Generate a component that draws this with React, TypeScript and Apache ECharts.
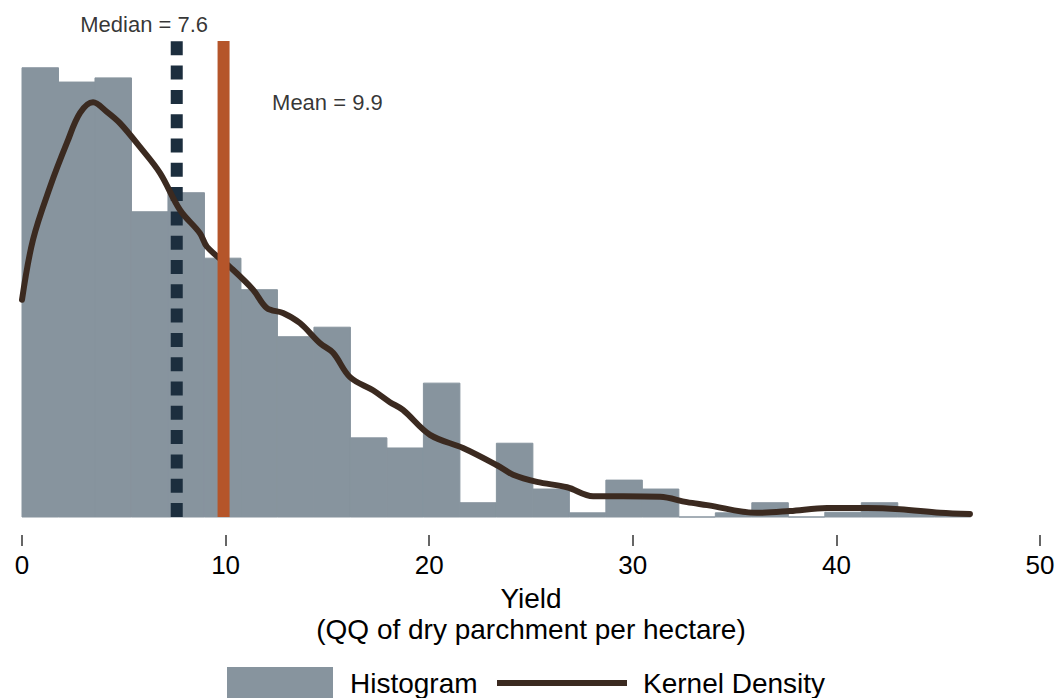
import React, { useEffect, useRef } from "react";
import * as echarts from "echarts";

// Histogram of yields: 26 equal-width bins starting at 0 (density scale)
const binStart = 0;
const binWidth = 1.7923;
const histDensity = [
  0.0755, 0.0731, 0.0738, 0.0513, 0.0545, 0.0435, 0.0382, 0.0303, 0.0319,
  0.0133, 0.0116, 0.0225, 0.0024, 0.0124, 0.0047, 0.0007, 0.0062, 0.0047,
  0.0, 0.0007, 0.0024, 0.0, 0.0008, 0.0024, 0.0008, 0.0007,
];

// Kernel density estimate
const kdeYield = [
  0, 0.54, 1.38, 2.21, 2.85, 3.49, 4.17, 4.81, 5.79, 6.78, 7.76, 8.74, 9.09,
  10.22, 11.35, 12.03, 12.82, 13.65, 14.64, 15.28, 16.11, 17.24, 18.07, 18.71,
  20.04, 21.66, 23.33, 24.12, 25.29, 26.77, 28.05, 29.52, 31.34, 32.66, 33.65,
  36.1, 37.72, 39.54, 41.5, 43.12, 45.09, 46.56,
];
const kdeDensity = [
  0.0365, 0.0466, 0.0555, 0.0629, 0.0679, 0.0697, 0.0681, 0.0662, 0.0622,
  0.0578, 0.0516, 0.0477, 0.0454, 0.042, 0.0382, 0.0351, 0.0343, 0.0326,
  0.0292, 0.0276, 0.0235, 0.0213, 0.0193, 0.018, 0.0138, 0.0116, 0.0087,
  0.0071, 0.0059, 0.005, 0.0035, 0.0035, 0.0034, 0.0025, 0.002, 0.0007, 0.001,
  0.0015, 0.0015, 0.0013, 0.0007, 0.0005,
];

const median = 7.6;
const mean = 9.9;

// Axis ranges; the y range dips slightly below zero so the tick row sits
// a little below the bars' baseline
const xMin = 0;
const xMax = 50;
const xStep = 10;
const yMin = -0.003025;
const yMax = 0.08;

// Where the two reference-line captions sit (data coordinates)
const medianLabelAt = [6.0, 0.0827];
const meanLabelAt = [15.0, 0.0697];

const HIST_COLOR = "#87949e";
const KDE_COLOR = "#3b2a20";
const MEDIAN_COLOR = "#1c2e3e";
const MEAN_COLOR = "#b5552a";
const FONT = "'Liberation Sans', Arial, Helvetica, sans-serif";

export default function App() {
  const ref = useRef<HTMLDivElement>(null);

  useEffect(() => {
    if (!ref.current) return;
    const chart = echarts.init(ref.current, undefined, { renderer: "svg" });

    const histData = histDensity.map((d, i) => [
      binStart + i * binWidth,
      binStart + (i + 1) * binWidth,
      d,
    ]);
    const kdeData = kdeYield.map((x, i) => [x, kdeDensity[i]]);

    chart.setOption({
      animation: false,
      backgroundColor: "#ffffff",
      textStyle: { fontFamily: FONT },
      grid: { left: 22, right: 20, top: 41, bottom: 163, containLabel: false },
      xAxis: {
        type: "value",
        min: xMin,
        max: xMax,
        interval: xStep,
        axisLine: { show: false, onZero: false },
        axisTick: { show: true, length: 11, lineStyle: { color: "#333", width: 1.5 } },
        splitLine: { show: false },
        axisLabel: { color: "#000", fontSize: 26, margin: 17, fontFamily: FONT },
        name: "Yield\n(QQ of dry parchment per hectare)",
        nameLocation: "middle",
        nameGap: 44,
        nameTextStyle: { color: "#000", fontSize: 28, lineHeight: 31, fontFamily: FONT },
      },
      yAxis: {
        type: "value",
        min: yMin,
        max: yMax,
        show: false,
        splitLine: { show: false },
      },
      legend: [
        {
          data: ["Histogram"],
          left: 227,
          top: 667,
          padding: 0,
          icon: "rect",
          itemWidth: 106,
          itemHeight: 32,
          selectedMode: false,
          textStyle: {
            fontSize: 28,
            lineHeight: 32,
            color: "#000",
            fontFamily: FONT,
            padding: [0, 0, 0, 12],
          },
        },
        {
          data: ["Kernel Density"],
          left: 497,
          top: 667,
          padding: 0,
          icon: "rect",
          itemWidth: 130,
          itemHeight: 6,
          selectedMode: false,
          itemStyle: { color: KDE_COLOR },
          textStyle: {
            fontSize: 28,
            lineHeight: 32,
            color: "#000",
            fontFamily: FONT,
            padding: [0, 0, 0, 11],
          },
        },
      ],
      series: [
        {
          name: "Histogram",
          type: "custom",
          itemStyle: { color: HIST_COLOR },
          encode: { x: [0, 1], y: 2 },
          data: histData,
          renderItem: (params: any, api: any) => {
            const topLeft = api.coord([api.value(0), api.value(2)]);
            const bottomRight = api.coord([api.value(1), 0]);
            return {
              type: "rect",
              shape: {
                x: topLeft[0],
                y: topLeft[1],
                width: bottomRight[0] - topLeft[0],
                height: bottomRight[1] - topLeft[1],
              },
              style: { fill: HIST_COLOR, stroke: HIST_COLOR, lineWidth: 1 },
            };
          },
          z: 1,
        },
        {
          name: "Median",
          type: "line",
          data: [
            [median, 0],
            [median, yMax],
          ],
          symbol: "none",
          lineStyle: { color: MEDIAN_COLOR, width: 12, type: [14, 10.3], cap: "butt" },
          silent: true,
          z: 2,
        },
        {
          name: "Kernel Density",
          type: "line",
          data: kdeData,
          smooth: 0.35,
          symbol: "none",
          itemStyle: { color: KDE_COLOR },
          lineStyle: { color: KDE_COLOR, width: 6, cap: "round", join: "round" },
          silent: true,
          z: 3,
        },
        {
          name: "Mean",
          type: "line",
          data: [
            [mean, 0],
            [mean, yMax],
          ],
          symbol: "none",
          lineStyle: { color: MEAN_COLOR, width: 12, cap: "butt" },
          silent: true,
          z: 4,
        },
        {
          name: "Captions",
          type: "scatter",
          symbolSize: 0,
          clip: false,
          silent: true,
          data: [
            {
              value: medianLabelAt,
              label: { formatter: `Median = ${median}` },
            },
            {
              value: meanLabelAt,
              label: { formatter: `Mean = ${mean}` },
            },
          ],
          label: {
            show: true,
            position: "inside",
            color: "#000",
            textBorderWidth: 0,
            fontSize: 22,
            fontFamily: FONT,
          },
          z: 5,
        },
      ],
    });

    return () => {
      chart.dispose();
    };
  }, []);

  return (
    <div
      ref={ref}
      style={{ position: "fixed", left: 0, top: 0, width: 1060, height: 698, background: "#fff" }}
    />
  );
}
